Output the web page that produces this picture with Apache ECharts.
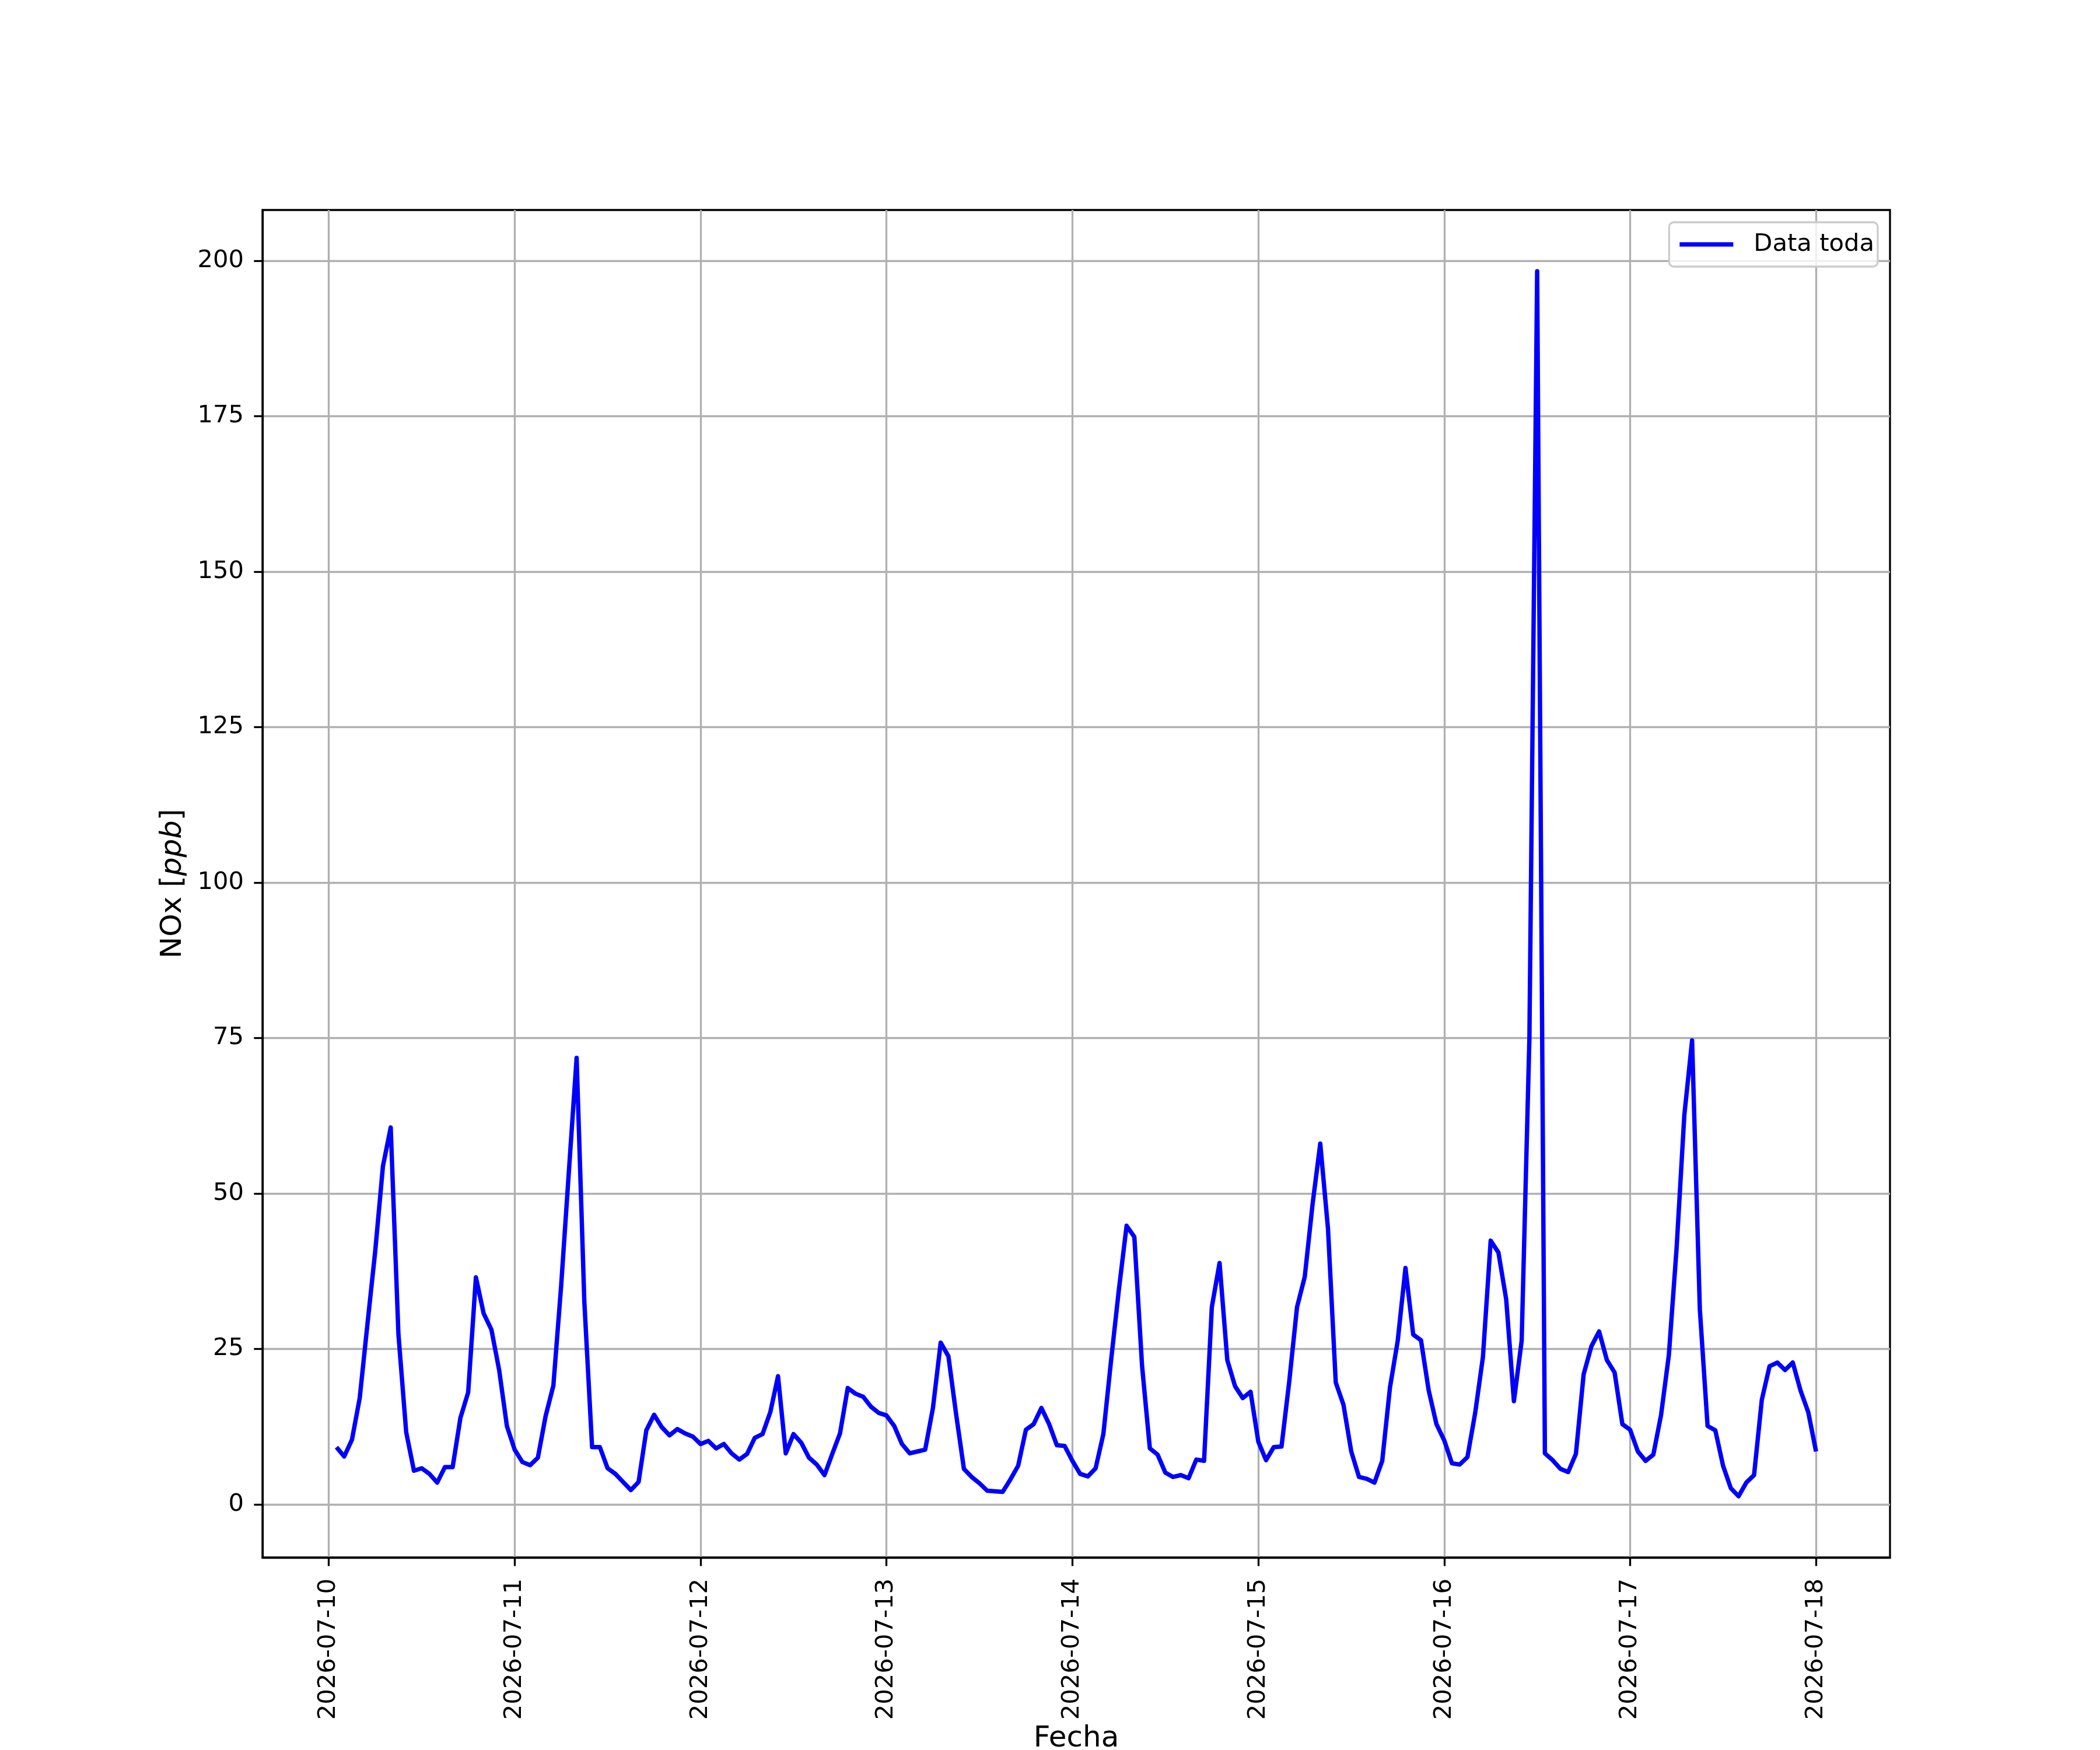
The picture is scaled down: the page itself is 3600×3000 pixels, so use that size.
<!DOCTYPE html>
<html>
<head>
<meta charset="utf-8">
<script src="https://cdn.jsdelivr.net/npm/echarts@6/dist/echarts.min.js"></script>
<style>
html,body{margin:0;padding:0;background:#ffffff;}
#chart{width:3600px;height:3000px;}
</style>
</head>
<body>
<div id="chart"></div>
<script>
// Series name
const seriesName = 'Data toda';

// Hourly NOx values [ppb], one array per day (hours 01:00 .. 24:00)
const day0710 = [9.2, 7.7, 10.4, 17.1, 29.0, 40.7, 54.4, 60.6, 27.3, 11.6, 5.4, 5.8,
                 4.9, 3.5, 6.0, 6.0, 13.9, 18.0, 36.5, 30.7, 28.1, 21.6, 12.6, 8.8];
const day0711 = [6.8, 6.3, 7.5, 14.2, 19.1, 35.1, 53.5, 71.8, 32.5, 9.2, 9.2, 5.8,
                 4.9, 3.6, 2.3, 3.6, 11.9, 14.4, 12.4, 11.1, 12.1, 11.4, 10.9, 9.7];
const day0712 = [10.2, 9.0, 9.7, 8.2, 7.2, 8.1, 10.7, 11.3, 14.8, 20.6, 8.2, 11.3,
                 9.9, 7.5, 6.4, 4.7, 8.1, 11.4, 18.7, 17.8, 17.3, 15.7, 14.7, 14.3];
const day0713 = [12.6, 9.7, 8.2, 8.5, 8.8, 15.5, 26.0, 23.8, 14.4, 5.7, 4.4, 3.4,
                 2.2, 2.1, 2.0, 4.0, 6.2, 12.0, 12.9, 15.5, 12.9, 9.5, 9.4, 7.0];
const day0714 = [4.9, 4.5, 5.8, 11.3, 23.2, 34.5, 44.8, 43.0, 22.2, 9.0, 8.0, 5.1,
                 4.4, 4.7, 4.2, 7.2, 7.0, 31.7, 38.8, 23.2, 19.0, 17.1, 18.1, 10.1];
const day0715 = [7.1, 9.2, 9.3, 19.8, 31.7, 36.6, 48.2, 58.0, 44.3, 19.6, 16.0, 8.5,
                 4.4, 4.1, 3.5, 7.0, 18.8, 26.3, 38.0, 27.3, 26.4, 18.3, 12.9, 10.3];
const day0716 = [6.6, 6.4, 7.6, 14.7, 23.7, 42.4, 40.5, 33.0, 16.6, 26.3, 75.0, 198.3,
                 8.2, 7.1, 5.7, 5.2, 8.1, 20.9, 25.4, 27.8, 23.2, 21.2, 12.9, 12.0];
const day0717 = [8.5, 7.0, 8.0, 14.4, 24.0, 41.2, 62.6, 74.6, 31.4, 12.6, 11.9, 6.2,
                 2.6, 1.3, 3.5, 4.7, 16.8, 22.2, 22.8, 21.6, 22.8, 18.3, 14.8, 8.5];

// Tick labels (one per day, at midnight) and their hour offsets from 2026-07-10 00:00
const xTickLabels = ['2026-07-10', '2026-07-11', '2026-07-12', '2026-07-13', '2026-07-14',
                     '2026-07-15', '2026-07-16', '2026-07-17', '2026-07-18'];
const xTickHours = [0, 24, 48, 72, 96, 120, 144, 168, 192];
const yTickValues = [0, 25, 50, 75, 100, 125, 150, 175, 200];

const values = [].concat(day0710, day0711, day0712, day0713, day0714, day0715, day0716, day0717);
// x = hours since 2026-07-10 00:00 (first sample at 01:00)
const seriesData = values.map((v, i) => [i + 1, v]);

const FONT = 'DejaVu Sans';
const LINE_W = 7.5;
const chart = echarts.init(document.getElementById('chart'), null, {renderer: 'canvas', width: 3600, height: 3000});

chart.setOption({
  animation: false,
  backgroundColor: '#ffffff',
  grid: {
    left: 450, right: 360, top: 360, bottom: 330,
    show: true, borderColor: '#000000', borderWidth: 3.3,
    backgroundColor: 'transparent',
    containLabel: false,
    outerBoundsMode: 'none'
  },
  legend: {
    data: [seriesName],
    right: 381, top: 381,
    icon: 'rect',
    itemWidth: 92, itemHeight: LINE_W,
    padding: [17, 6, 17, 18],
    borderColor: '#cccccc', borderWidth: 3.3, borderRadius: 8,
    backgroundColor: 'rgba(255,255,255,0.8)',
    itemStyle: {color: '#0000ff'},
    textStyle: {fontFamily: FONT, fontSize: 41.7, color: '#000000', padding: [0, 0, 0, 30], lineHeight: 42}
  },
  xAxis: {
    type: 'value',
    min: -8.55, max: 201.55,
    name: 'Fecha',
    nameLocation: 'middle',
    nameGap: 283,
    nameTextStyle: {fontFamily: FONT, fontSize: 50, color: '#000000'},
    axisLine: {show: true, onZero: false, lineStyle: {color: '#000000', width: 3.3}},
    axisTick: {show: true, inside: false, length: 14.6, lineStyle: {color: '#000000', width: 3.3}, customValues: xTickHours},
    axisLabel: {
      customValues: xTickHours,
      rotate: 90, margin: 36,
      fontFamily: FONT, fontSize: 41.7, color: '#000000',
      formatter: function (v) { const k = xTickHours.indexOf(Math.round(v)); return k >= 0 ? xTickLabels[k] : ''; }
    },
    splitLine: {show: true, lineStyle: {color: '#b0b0b0', width: 3.3}}
  },
  yAxis: {
    type: 'value',
    min: -8.55, max: 208.15,
    name: '{n|NOx [}{i|ppb}{n|]}',
    nameLocation: 'middle',
    nameGap: 128,
    nameTextStyle: {
      rich: {
        n: {fontFamily: FONT, fontSize: 50, color: '#000000'},
        i: {fontFamily: FONT, fontSize: 50, fontStyle: 'italic', color: '#000000'}
      }
    },
    axisLine: {show: true, onZero: false, lineStyle: {color: '#000000', width: 3.3}},
    axisTick: {show: true, inside: false, length: 14.6, lineStyle: {color: '#000000', width: 3.3}, customValues: yTickValues},
    axisLabel: {
      customValues: yTickValues,
      margin: 32,
      fontFamily: FONT, fontSize: 41.7, color: '#000000',
      formatter: function (v) { return String(Math.round(v)); }
    },
    splitLine: {show: true, lineStyle: {color: '#b0b0b0', width: 3.3}}
  },
  series: [{
    name: seriesName,
    type: 'line',
    data: seriesData,
    symbol: 'none',
    showSymbol: false,
    smooth: false,
    clip: true,
    lineStyle: {color: '#0000ff', width: LINE_W, join: 'round', cap: 'butt'},
    itemStyle: {color: '#0000ff'},
    z: 3
  }]
});
</script>
</body>
</html>
